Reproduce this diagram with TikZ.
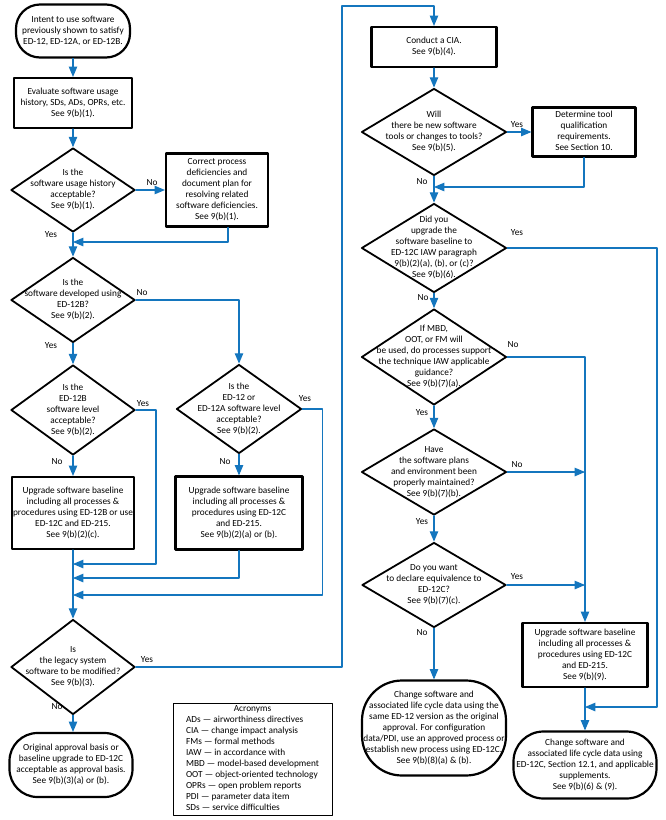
\documentclass[tikz,border=0pt]{standalone}
\usepackage{fontspec}
\setmainfont{Carlito}
\usepackage{tikz}
\usetikzlibrary{arrows,shapes.geometric}
\definecolor{flowblue}{RGB}{20,118,190}
\newcommand{\fsz}{\fontsize{9.3}{11}\selectfont}
\newcommand{\ntext}[2][c]{\makebox[0pt]{\raisebox{-2.3pt}[0pt][0pt]{\begin{tabular}{@{}#1@{}}#2\end{tabular}}}}
\tikzset{
  process/.style={draw, rectangle, line width=2.2pt, inner sep=0pt, font=\fsz},
  terminal/.style={draw, rectangle, rounded corners=#1, line width=2.2pt, inner sep=0pt, font=\fsz},
  decision/.style={draw, diamond, line width=1.8pt, inner sep=0pt, font=\fsz},
  flow/.style={->, line width=1.4pt, color=flowblue},
  answer/.style={inner sep=1pt, font=\fsz}
}

\begin{document}
\begin{tikzpicture}[line cap=round,line join=round,>=triangle 45,x=1pt,y=-1pt]
        \useasboundingbox (0,0) rectangle (666,820);
        \node[terminal=24pt, minimum width=114pt, minimum height=53pt] (start) at (73,31) {\ntext{Intent to use software\\previously shown to satisfy\\ED-12, ED-12A, or ED-12B.}};
        \node[process, minimum width=118pt, minimum height=50pt] (eval) at (73,103) {\ntext{Evaluate software usage\\history, SDs, ADs, OPRs, etc.\\See 9(b)(1).}};
        \node[decision, minimum width=124pt, minimum height=84pt] (q1) at (73,190) {\ntext{Is the\\software usage history\\acceptable?\\See 9(b)(1).}};
        \node[process, minimum width=102pt, minimum height=73pt] (fix) at (217,190) {\ntext{Correct process\\deficiencies and\\document plan for\\resolving related\\software deficiencies.\\See 9(b)(1).}};
        \node[decision, minimum width=124pt, minimum height=85pt] (q2) at (73,300) {\ntext{Is the\\software developed using\\ED-12B?\\See 9(b)(2).}};
        \node[decision, minimum width=124pt, minimum height=90pt] (q3) at (73,410) {\ntext{Is the\\ED-12B\\software level\\acceptable?\\See 9(b)(2).}};
        \node[decision, minimum width=125pt, minimum height=89pt] (q4) at (239,409) {\ntext{Is the\\ED-12 or\\ED-12A software level\\acceptable?\\See 9(b)(2).}};
        \node[process, minimum width=122pt, minimum height=72pt] (up1) at (73,513) {\ntext{Upgrade software baseline\\including all processes \&\\procedures using ED-12B or use\\ED-12C and ED-215.\\See 9(b)(2)(c).}};
        \node[process, minimum width=127pt, minimum height=73pt] (up2) at (239,513) {\ntext{Upgrade software baseline\\including all processes \&\\procedures using ED-12C\\and ED-215.\\See 9(b)(2)(a) or (b).}};
        \node[decision, minimum width=124pt, minimum height=95pt] (q5) at (73,667) {\ntext{Is\\the legacy system\\software to be modified?\\See 9(b)(3).}};
        \node[terminal=28pt, minimum width=123pt, minimum height=64pt] (endA) at (71,765) {\ntext{Original approval basis or\\baseline upgrade to ED-12C\\acceptable as approval basis.\\See 9(b)(3)(a) or (b).}};
        \node[draw, line width=1pt, inner sep=0pt, font=\fsz, minimum width=159pt, minimum height=112pt] (acro) at (252.5,759) {\ntext[l]{\multicolumn{1}{@{}c@{}}{Acronyms}\\ADs --- airworthiness directives\\CIA --- change impact analysis\\FMs --- formal methods\\IAW --- in accordance with\\MBD --- model-based development\\OOT --- object-oriented technology\\OPRs --- open problem reports\\PDI --- parameter data item\\SDs --- service difficulties}};
        \node[process, minimum width=125pt, minimum height=40pt] (cia) at (434,47) {\ntext{Conduct a CIA.\\See 9(b)(4).}};
        \node[decision, minimum width=145pt, minimum height=87pt] (q6) at (434,132) {\ntext{Will\\there be new software\\tools or changes to tools?\\See 9(b)(5).}};
        \node[process, minimum width=103pt, minimum height=49pt] (tool) at (584,132) {\ntext{Determine tool\\qualification\\requirements.\\See Section 10.}};
        \node[decision, minimum width=145pt, minimum height=89pt] (q7) at (434,248) {\ntext{Did you\\upgrade the\\software baseline to\\ED-12C IAW paragraph\\9(b)(2)(a), (b), or (c)?\\See 9(b)(6).}};
        \node[decision, minimum width=145pt, minimum height=96pt] (q8) at (434,357) {\ntext{If MBD,\\OOT, or FM will\\be used, do processes support\\the technique IAW applicable\\guidance?\\See 9(b)(7)(a).}};
        \node[decision, minimum width=145pt, minimum height=86pt] (q9) at (434,472) {\ntext{Have\\the software plans\\and environment been\\properly maintained?\\See 9(b)(7)(b).}};
        \node[decision, minimum width=144pt, minimum height=85pt] (q10) at (434,585) {\ntext{Do you want\\to declare equivalence to\\ED-12C?\\See 9(b)(7)(c).}};
        \node[terminal=40pt, minimum width=144pt, minimum height=95pt] (endB) at (434,728) {\ntext{Change software and\\associated life cycle data using the\\same ED-12 version as the original\\approval. For configuration\\data/PDI, use an approved process or\\establish new process using ED-12C.\\See 9(b)(8)(a) \& (b).}};
        \node[process, minimum width=125pt, minimum height=64pt] (up3) at (585,655) {\ntext{Upgrade software baseline\\including all processes \&\\procedures using ED-12C\\and ED-215.\\See 9(b)(9).}};
        \node[terminal=30pt, minimum width=143pt, minimum height=67pt] (endC) at (585,765) {\ntext{Change software and\\associated life cycle data using\\ED-12C, Section 12.1, and applicable\\supplements.\\See 9(b)(6) \& (9).}};
        \coordinate (j1) at (73,242);
        \coordinate (j3) at (73,564);
        \coordinate (j4) at (73,578);
        \coordinate (j5) at (73,595);
        \coordinate (c1) at (342,6);
        \coordinate (j6) at (434,187);
        \coordinate (c2) at (657,707);
        \coordinate (j7) at (585,707);
        \draw[flow] (start.south) -- (eval.north);
        \draw[flow] (eval.south) -- (q1.north);
        \draw[flow] (q1.east) -- (fix.west);
        \draw[flow] ([xshift=11pt]fix.south) |- (j1);
        \draw[flow] (q1.south) -- (q2.north);
        \draw[flow] (q2.east) -| (q4.north);
        \draw[flow] (q2.south) -- (q3.north);
        \draw[flow] (q3.east) -- ++(20,0) |- (j3);
        \draw[flow] (q3.south) -- (up1.north);
        \draw[flow] (q4.east) -- ++(20,0) |- (j5);
        \draw[flow] (q4.south) -- (up2.north);
        \draw[flow] (up2.south) |- (j4);
        \draw[flow] (up1.south) -- (q5.north);
        \draw[flow] (q5.east) -| (c1) -| (cia.north);
        \draw[flow] (q5.south) -- (endA.north -| q5.south);
        \draw[flow] (cia.south) -- (q6.north);
        \draw[flow] (q6.east) -- (tool.west);
        \draw[flow] (tool.south) |- (j6);
        \draw[flow] (q6.south) -- (q7.north);
        \draw[flow] (q7.east) -| (c2) -- (j7);
        \draw[flow] (q7.south) -- (q8.north);
        \draw[flow] (q8.east) -| (up3.north);
        \draw[flow] (q8.south) -- (q9.north);
        \draw[flow] (q9.east) -- (q9.east -| up3.north);
        \draw[flow] (q9.south) -- (q10.north);
        \draw[flow] (q10.east) -- (q10.east -| up3.north);
        \draw[flow] (q10.south) -- (endB.north);
        \draw[flow] (up3.south) -- (endC.north);
        \node[answer] (a1) at (152,183) {No};
        \node[answer] (a2) at (51,235) {Yes};
        \node[answer] (a3) at (142,293) {No};
        \node[answer] (a4) at (51,346) {Yes};
        \node[answer] (a5) at (143,404) {Yes};
        \node[answer] (a6) at (57,462) {No};
        \node[answer] (a7) at (305,399) {Yes};
        \node[answer] (a8) at (225,462) {No};
        \node[answer] (a9) at (147,660) {Yes};
        \node[answer] (a10) at (57,707) {No};
        \node[answer] (a11) at (517,125) {Yes};
        \node[answer] (a12) at (422,182) {No};
        \node[answer] (a13) at (517,233) {Yes};
        \node[answer] (a14) at (423,298) {No};
        \node[answer] (a15) at (513,345) {No};
        \node[answer] (a16) at (422,413) {Yes};
        \node[answer] (a17) at (517,465) {No};
        \node[answer] (a18) at (422,522) {Yes};
        \node[answer] (a19) at (517,577) {Yes};
        \node[answer] (a20) at (422,633) {No};
    \end{tikzpicture}
\end{document}
